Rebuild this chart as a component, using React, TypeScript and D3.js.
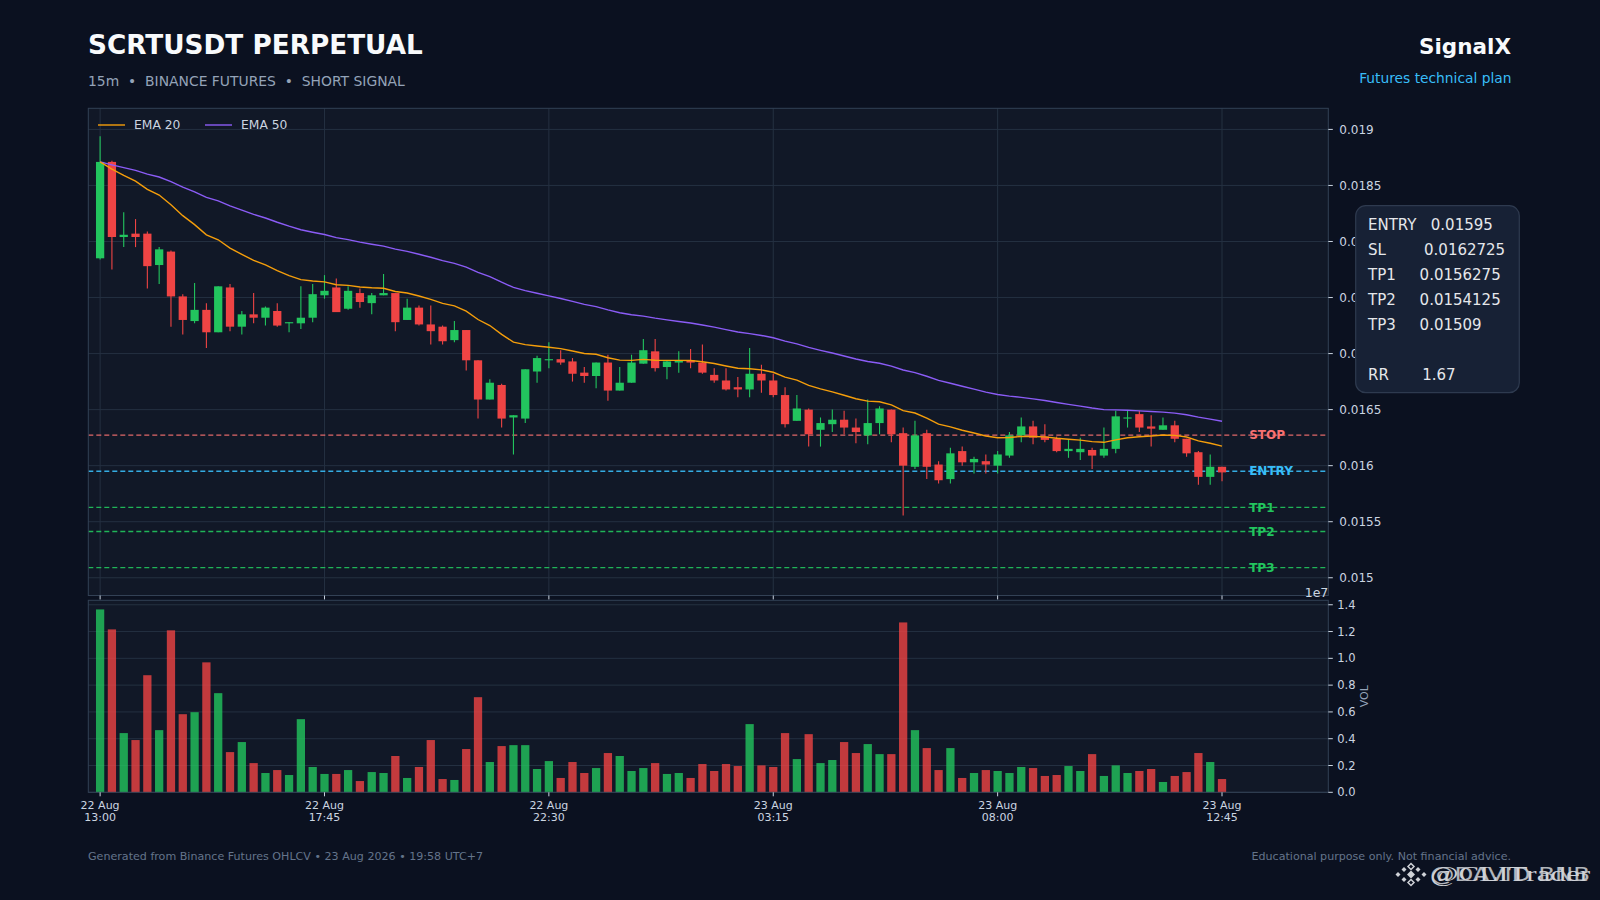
import * as d3 from "d3";
import { useEffect } from "react";

// 15m candles, 22 Aug 13:00 -> 23 Aug 12:45
const opens = [
  0.01785, 0.01871, 0.01804, 0.01807, 0.01807, 0.01779, 0.01791, 0.01751, 0.01729, 0.01739,
  0.01719, 0.01759, 0.01724, 0.01735, 0.01732, 0.01738, 0.01727, 0.01727, 0.01732, 0.01752,
  0.01759, 0.0174, 0.01754, 0.01745, 0.01752, 0.01754, 0.0173, 0.01741, 0.01726, 0.01724,
  0.01712, 0.01721, 0.01694, 0.01659, 0.01672, 0.01643, 0.01642, 0.01684, 0.01694, 0.01695,
  0.01693, 0.01683, 0.0168, 0.01692, 0.01667, 0.01674, 0.01691, 0.01702, 0.01688, 0.01692,
  0.01694, 0.01692, 0.01681, 0.01676, 0.0167, 0.01668, 0.01682, 0.01676, 0.01663, 0.0164,
  0.0165, 0.01632, 0.01637, 0.01641, 0.01634, 0.01627, 0.01638, 0.0165, 0.01629, 0.01599,
  0.01629, 0.01601, 0.01588, 0.01613, 0.01603, 0.01604, 0.016, 0.01609, 0.01627, 0.01635,
  0.01626, 0.01624, 0.01613, 0.01612, 0.01614, 0.01609, 0.01615, 0.01642, 0.01646, 0.01635,
  0.01632, 0.01636, 0.01624, 0.01612, 0.0159, 0.01599,
];
const highs = [
  0.01894, 0.01872, 0.01826, 0.0182, 0.01809, 0.01795, 0.01792, 0.01753, 0.01763, 0.01745,
  0.0176, 0.01762, 0.01738, 0.01754, 0.01742, 0.01745, 0.01728, 0.0176, 0.01762, 0.0177,
  0.01767, 0.0176, 0.01758, 0.01754, 0.01771, 0.01754, 0.01749, 0.01743, 0.01743, 0.01725,
  0.01729, 0.01721, 0.01694, 0.01677, 0.01673, 0.01645, 0.01686, 0.01698, 0.0171, 0.01703,
  0.01696, 0.01688, 0.01692, 0.01699, 0.01688, 0.01699, 0.01713, 0.01713, 0.01694, 0.01702,
  0.01704, 0.01708, 0.01687, 0.01687, 0.01679, 0.01705, 0.0169, 0.01682, 0.0167, 0.01663,
  0.01651, 0.01643, 0.0165, 0.01649, 0.01642, 0.01659, 0.01653, 0.0165, 0.01634, 0.0164,
  0.01632, 0.01604, 0.01616, 0.01617, 0.01608, 0.0161, 0.01613, 0.0163, 0.01643, 0.0164,
  0.01637, 0.01626, 0.01623, 0.01625, 0.01616, 0.01634, 0.01649, 0.01649, 0.01649, 0.01645,
  0.01643, 0.0164, 0.01624, 0.01613, 0.0161, 0.01599,
];
const lows = [
  0.01784, 0.01775, 0.01795, 0.01795, 0.01758, 0.01762, 0.01724, 0.01717, 0.01727, 0.01705,
  0.01719, 0.0172, 0.01717, 0.01727, 0.01725, 0.01724, 0.01719, 0.01722, 0.01728, 0.01749,
  0.01737, 0.01739, 0.01741, 0.01735, 0.01752, 0.0172, 0.0173, 0.01725, 0.01708, 0.01708,
  0.0171, 0.01685, 0.01642, 0.01659, 0.01634, 0.0161, 0.01638, 0.01674, 0.01687, 0.0169,
  0.01675, 0.01674, 0.01669, 0.01658, 0.01667, 0.01674, 0.01691, 0.01684, 0.01677, 0.01683,
  0.01687, 0.01682, 0.01674, 0.01667, 0.01661, 0.01661, 0.01665, 0.01661, 0.01634, 0.0164,
  0.01617, 0.01617, 0.0163, 0.01628, 0.0162, 0.01619, 0.01628, 0.01621, 0.015556, 0.01597,
  0.01588, 0.01584, 0.01584, 0.016, 0.01593, 0.01593, 0.01593, 0.01607, 0.01621, 0.01619,
  0.01621, 0.01612, 0.01607, 0.01605, 0.01597, 0.01607, 0.01611, 0.01634, 0.0163, 0.01617,
  0.01632, 0.01621, 0.01608, 0.01583, 0.01583, 0.01586,
];
const closes = [
  0.01871, 0.01804, 0.01806, 0.01804, 0.01778, 0.01793, 0.01751, 0.0173, 0.01739, 0.01719,
  0.0176, 0.01724, 0.01735, 0.01732, 0.01741, 0.01725, 0.01728, 0.01732, 0.01753, 0.01756,
  0.01737, 0.01756, 0.01746, 0.01752, 0.01754, 0.01728, 0.01741, 0.01726, 0.0172, 0.01711,
  0.01721, 0.01694, 0.01659, 0.01674, 0.01642, 0.01645, 0.01686, 0.01696, 0.01695, 0.01692,
  0.01682, 0.0168, 0.01692, 0.01667, 0.01674, 0.01692, 0.01703, 0.01687, 0.01693, 0.01694,
  0.01692, 0.01683, 0.01676, 0.01668, 0.01668, 0.01682, 0.01676, 0.01663, 0.01637, 0.01651,
  0.01628, 0.01638, 0.01641, 0.01634, 0.0163, 0.01638, 0.01651, 0.01628, 0.016, 0.01627,
  0.01599, 0.01587, 0.01611, 0.01603, 0.01606, 0.01601, 0.0161, 0.01627, 0.01635, 0.01625,
  0.01623, 0.01613, 0.01615, 0.01615, 0.01609, 0.01615, 0.01644, 0.01643, 0.01634, 0.01633,
  0.01636, 0.01624, 0.01611, 0.0159, 0.01599, 0.01594,
];
const volumes = [
  1.365e7, 1.216e7, 0.442e7, 0.39e7, 0.874e7, 0.464e7, 1.209e7, 0.583e7, 0.598e7, 0.97e7,
  0.74e7, 0.3e7, 0.375e7, 0.218e7, 0.144e7, 0.166e7, 0.129e7, 0.546e7, 0.189e7, 0.137e7,
  0.137e7, 0.166e7, 0.084e7, 0.151e7, 0.144e7, 0.271e7, 0.107e7, 0.189e7, 0.39e7, 0.099e7,
  0.092e7, 0.323e7, 0.71e7, 0.226e7, 0.345e7, 0.352e7, 0.352e7, 0.174e7, 0.233e7, 0.107e7,
  0.226e7, 0.144e7, 0.181e7, 0.293e7, 0.271e7, 0.159e7, 0.181e7, 0.218e7, 0.137e7, 0.144e7,
  0.107e7, 0.211e7, 0.159e7, 0.211e7, 0.196e7, 0.509e7, 0.201e7, 0.189e7, 0.442e7, 0.248e7,
  0.434e7, 0.218e7, 0.241e7, 0.375e7, 0.293e7, 0.36e7, 0.285e7, 0.285e7, 1.268e7, 0.464e7,
  0.33e7, 0.166e7, 0.33e7, 0.107e7, 0.144e7, 0.166e7, 0.159e7, 0.144e7, 0.189e7, 0.181e7,
  0.122e7, 0.129e7, 0.196e7, 0.159e7, 0.285e7, 0.122e7, 0.201e7, 0.144e7, 0.159e7, 0.174e7,
  0.077e7, 0.122e7, 0.151e7, 0.293e7, 0.226e7, 0.099e7,
];

const tickIndex = [0, 19, 38, 57, 76, 95];
const tickDays = ["22 Aug", "22 Aug", "22 Aug", "23 Aug", "23 Aug", "23 Aug"];
const tickTimes = ["13:00", "17:45", "22:30", "03:15", "08:00", "12:45"];

const levelNames = ["STOP", "ENTRY", "TP1", "TP2", "TP3"];
const levelValues = [0.0162725, 0.01595, 0.0156275, 0.0154125, 0.01509];
const levelColors = ["#f87171", "#38bdf8", "#22c55e", "#22c55e", "#22c55e"];

const rr = 1.67;

const BG = "#0b1120";
const PANEL = "#111827";
const GRID = "#243041";
const BORDER = "#334155";
const UP = "#22c55e";
const DOWN = "#ef4444";
const TXT = "#cbd5e1";
const FONT = "DejaVu Sans, sans-serif";

function ema(values: number[], span: number) {
  const a = 2 / (span + 1);
  const out: number[] = [];
  values.forEach((v, i) => out.push(i === 0 ? v : a * v + (1 - a) * out[i - 1]));
  return out;
}

// diamond path around a centre
const diamond = (cx: number, cy: number, r: number) =>
  `M${cx},${cy - r}L${cx + r},${cy}L${cx},${cy + r}L${cx - r},${cy}Z`;

export default function App() {
  useEffect(() => {
    document.body.style.margin = "0";
    document.body.style.background = BG;
  }, []);

  const L = 88.3, R = 1328.3;
  const pTop = 108.3, pBot = 595.5;
  const vTop = 600.3, vBot = 792.3;

  const x = d3.scaleLinear().domain([-1, 104]).range([L, R]);
  const lo = Math.min(d3.min(lows)!, d3.min(levelValues)!);
  const hi = d3.max(highs)!;
  const pad = (hi - lo) * 0.0645;
  const y = d3.scaleLinear().domain([lo - pad, hi + pad]).range([pBot, pTop]);
  const vy = d3.scaleLinear().domain([0, d3.max(volumes)! * 1.05]).range([vBot, vTop]);
  const bw = (x(1) - x(0)) * 0.7;

  const ema20 = ema(closes, 20);
  const ema50 = ema(closes, 50);
  const line = d3
    .line<number>()
    .x((_, i) => x(i))
    .y((d) => y(d));

  const priceTicks = y.ticks(10).filter((t) => y(t) > pTop && y(t) < pBot);
  const volTicks = vy.ticks(7);

  const boxLines = [
    `ENTRY   ${levelValues[1]}`,
    `SL        ${levelValues[0]}`,
    `TP1     ${levelValues[2]}`,
    `TP2     ${levelValues[3]}`,
    `TP3     ${levelValues[4]}`,
    ``,
    `RR       ${rr}`,
  ];

  return (
    <div style={{ position: "absolute", left: 0, top: 0, width: 1600, height: 900, background: BG }}>
      <svg width={1600} height={900} style={{ display: "block", fontFamily: FONT }}>
        <rect width={1600} height={900} fill={BG} />

        {/* header */}
        <text x={88} y={54} fontSize={26.3} fontWeight="bold" fill="#f8fafc">
          SCRTUSDT PERPETUAL
        </text>
        <text x={88} y={86} fontSize={13.9} fill="#94a3b8" style={{ whiteSpace: "pre" }}>
          {"15m  •  BINANCE FUTURES  •  SHORT SIGNAL"}
        </text>
        <text x={1511} y={54} fontSize={21.5} fontWeight="bold" fill="#f8fafc" textAnchor="end">
          SignalX
        </text>
        <text x={1511.5} y={83} fontSize={13.8} fill="#38bdf8" textAnchor="end">
          Futures technical plan
        </text>

        {/* price panel */}
        <rect x={L} y={pTop} width={R - L} height={pBot - pTop} fill={PANEL} />
        {priceTicks.map((t) => (
          <line key={t} x1={L} x2={R} y1={y(t)} y2={y(t)} stroke={GRID} strokeWidth={1} />
        ))}
        {tickIndex.map((t) => (
          <line key={t} x1={x(t)} x2={x(t)} y1={pTop} y2={pBot} stroke={GRID} strokeWidth={1} />
        ))}

        {levelValues.map((v, i) => (
          <line
            key={levelNames[i]}
            x1={L}
            x2={R}
            y1={y(v)}
            y2={y(v)}
            stroke={levelColors[i]}
            strokeWidth={1.3}
            strokeDasharray="5,3"
            opacity={0.9}
          />
        ))}

        {closes.map((c, i) => {
          const up = c >= opens[i];
          const col = up ? UP : DOWN;
          const top = y(Math.max(c, opens[i]));
          const h = Math.max(1, Math.abs(y(c) - y(opens[i])));
          return (
            <g key={i}>
              <line x1={x(i)} x2={x(i)} y1={y(highs[i])} y2={y(lows[i])} stroke={col} strokeWidth={1.1} />
              <rect x={x(i) - bw / 2} y={top} width={bw} height={h} fill={col} />
            </g>
          );
        })}

        <path d={line(ema50)!} fill="none" stroke="#8b5cf6" strokeWidth={1.4} />
        <path d={line(ema20)!} fill="none" stroke="#f59e0b" strokeWidth={1.4} />

        {levelValues.map((v, i) => (
          <text
            key={levelNames[i]}
            x={x(97.3)}
            y={y(v)}
            dy="0.35em"
            fontSize={12}
            fontWeight="bold"
            fill={levelColors[i]}
          >
            {levelNames[i]}
          </text>
        ))}

        {/* legend */}
        <line x1={98} x2={125} y1={125} y2={125} stroke="#f59e0b" strokeWidth={1.4} />
        <text x={134} y={125} dy="0.35em" fontSize={12.3} fill={TXT}>EMA 20</text>
        <line x1={205} x2={232} y1={125} y2={125} stroke="#8b5cf6" strokeWidth={1.4} />
        <text x={241} y={125} dy="0.35em" fontSize={12.3} fill={TXT}>EMA 50</text>

        <rect x={L} y={pTop} width={R - L} height={pBot - pTop} fill="none" stroke={BORDER} strokeWidth={1} />
        {priceTicks.map((t) => (
          <g key={t}>
            <line x1={R} x2={R + 4.5} y1={y(t)} y2={y(t)} stroke={TXT} strokeWidth={1} />
            <text x={R + 11} y={y(t)} dy="0.35em" fontSize={12} fill={TXT}>
              {+t.toFixed(5)}
            </text>
          </g>
        ))}
        {tickIndex.map((t) => (
          <line key={t} x1={x(t)} x2={x(t)} y1={pBot} y2={pBot + 4} stroke={TXT} strokeWidth={1} />
        ))}

        {/* volume panel */}
        <rect x={L} y={vTop} width={R - L} height={vBot - vTop} fill={PANEL} />
        {volTicks.map((t) => (
          <line key={t} x1={L} x2={R} y1={vy(t)} y2={vy(t)} stroke={GRID} strokeWidth={1} />
        ))}
        {volumes.map((v, i) => (
          <rect
            key={i}
            x={x(i) - bw / 2}
            y={vy(v)}
            width={bw}
            height={vBot - vy(v)}
            fill={closes[i] >= opens[i] ? UP : DOWN}
            opacity={0.8}
          />
        ))}
        <rect x={L} y={vTop} width={R - L} height={vBot - vTop} fill="none" stroke={BORDER} strokeWidth={1} />
        {volTicks.map((t) => (
          <g key={t}>
            <line x1={R} x2={R + 4.5} y1={vy(t)} y2={vy(t)} stroke={TXT} strokeWidth={1} />
            <text x={R + 9} y={vy(t)} dy="0.35em" fontSize={11.5} fill={TXT}>
              {(t / 1e7).toFixed(1)}
            </text>
          </g>
        ))}
        <text x={R} y={597} fontSize={12.5} fill={TXT} textAnchor="end">1e7</text>
        <text
          transform={`translate(1368,${(vTop + vBot) / 2}) rotate(-90)`}
          fontSize={11}
          fill="#94a3b8"
          textAnchor="middle"
        >
          VOL
        </text>
        {tickIndex.map((t, i) => (
          <g key={t}>
            <line x1={x(t)} x2={x(t)} y1={vBot} y2={vBot + 4} stroke={TXT} strokeWidth={1} />
            <text x={x(t)} y={809} fontSize={11} fill={TXT} textAnchor="middle">{tickDays[i]}</text>
            <text x={x(t)} y={821} fontSize={11} fill={TXT} textAnchor="middle">{tickTimes[i]}</text>
          </g>
        ))}

        {/* plan box */}
        <rect x={1355.7} y={205.7} width={163.6} height={187} rx={10} fill="#172135" stroke="#2e3a4f" strokeWidth={1.2} />
        {boxLines.map((s, i) => (
          <text key={i} x={1368} y={230 + i * 25} fontSize={15} fill="#e5e7eb" style={{ whiteSpace: "pre" }}>
            {s}
          </text>
        ))}

        {/* footer */}
        <text x={88} y={860} fontSize={11.1} fill="#64748b">
          Generated from Binance Futures OHLCV • 23 Aug 2026 • 19:58 UTC+7
        </text>
        <text x={1511} y={860} fontSize={11.1} fill="#64748b" textAnchor="end">
          Educational purpose only. Not financial advice.
        </text>

        {/* watermark */}
        <g fill="#e5e7eb" opacity={0.9}>
          <path d={diamond(1398, 874.5, 2.5)} />
          <path d={diamond(1411, 874.5, 4)} />
          <path d={diamond(1424, 874.5, 2.5)} />
          <path d={diamond(1411, 866.5, 3)} fill="none" stroke="#e5e7eb" strokeWidth={1.5} />
          <path d={diamond(1411, 882.5, 3)} fill="none" stroke="#e5e7eb" strokeWidth={1.5} />
          <path d={diamond(1404, 869.5, 2.5)} />
          <path d={diamond(1418, 869.5, 2.5)} />
          <path d={diamond(1404, 879.5, 2.5)} />
          <path d={diamond(1418, 879.5, 2.5)} />
          <text x={1430} y={881} fontSize={22} fontFamily="Liberation Serif, serif" textLength={160} lengthAdjust="spacingAndGlyphs">
            @CLITrader
          </text>
          <text x={1430} y={881} fontSize={20} fontFamily={FONT} textLength={160} lengthAdjust="spacingAndGlyphs" opacity={0.85}>
            @DAVID BNB
          </text>
        </g>
      </svg>
    </div>
  );
}
